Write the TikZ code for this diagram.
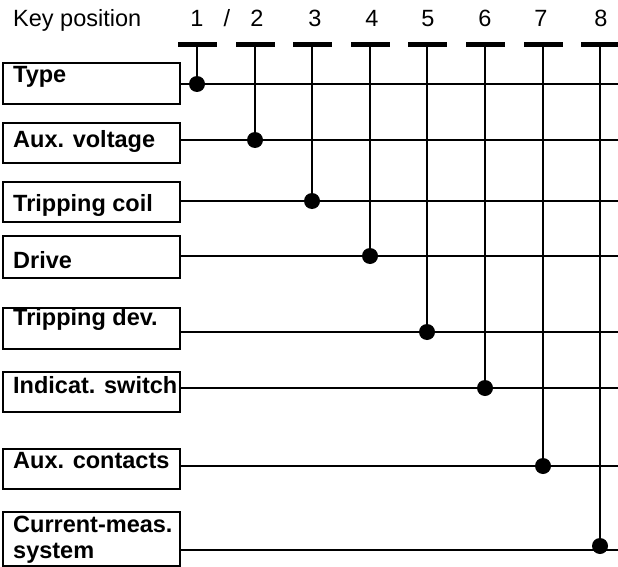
\documentclass[tikz,border=0pt]{standalone}
\usepackage{fontspec}
\setmainfont{Liberation Sans}
\begin{document}
\begin{tikzpicture}[x=1pt,y=-1pt,
  wire/.style={line width=1.8pt},
  keybar/.style={fill=black,draw=none,minimum width=39pt,minimum height=5pt,inner sep=0pt},
  joint/.style={circle,fill=black,draw=none,minimum size=16pt,inner sep=0pt},
  labelbox/.style={draw,line width=1.6pt,minimum width=177pt,inner sep=0pt},
  boxtext/.style={anchor=base west,inner sep=0pt,font=\fontsize{23.5}{28}\selectfont\bfseries},
  headtext/.style={anchor=base,inner sep=0pt,font=\fontsize{23.5}{28}\selectfont}]
\useasboundingbox (0,0) rectangle (618,567);

% header
\node[headtext,anchor=base west] (hk) at (13,27) {Key position};
\node[headtext] (h1) at (197,27) {1};
\node[headtext] (hs) at (227,27) {/};
\node[headtext] (h2) at (257,27) {2};
\node[headtext] (h3) at (315,27) {3};
\node[headtext] (h4) at (372,27) {4};
\node[headtext] (h5) at (428,27) {5};
\node[headtext] (h6) at (485,27) {6};
\node[headtext] (h7) at (541,27) {7};
\node[headtext] (h8) at (601,27) {8};

% key bar positions
\foreach \x [count=\i] in {197,255,312,370,427,485,543,600}
  \coordinate (kx\i) at (\x,44.5);

% rows: box top, box bottom, line y, text baseline, text
\foreach \top/\bot/\ly/\bl/\txt [count=\i] in {
  63/104/84/83/Type,
  123/163/140/147/Aux. voltage,
  182/222/201/211/Tripping coil,
  236/278/256/268/Drive,
  308/349/332/325/Tripping dev.,
  372/412/388/393/Indicat. switch,
  449/489/466/468/Aux. contacts}{
  \node[labelbox,minimum height={\bot-\top}] (b\i) at (91.5,{(\top+\bot)/2}) {};
  \node[boxtext] (t\i) at (13,\bl) {\txt};
  \coordinate (r\i) at (618,\ly);
  \draw[wire] (b\i.east |- r\i) -- (r\i);
  \node[joint] (d\i) at (kx\i |- r\i) {};
  \draw[wire] (kx\i) -- (d\i.center);
}

% last row with two text lines
\node[labelbox,minimum height=54pt] (b8) at (91.5,539) {};
\node[boxtext] (t8) at (13,532) {Current-meas.};
\node[boxtext] (t8b) at (13,558) {system};
\coordinate (r8) at (618,550);
\draw[wire] (b8.east |- r8) -- (r8);
\node[joint] (d8) at (600,546) {};
\draw[wire] (kx8) -- (d8.center);

% bars on top
\foreach \i in {1,...,8}
  \node[keybar] (k\i) at (kx\i) {};
\end{tikzpicture}
\end{document}
